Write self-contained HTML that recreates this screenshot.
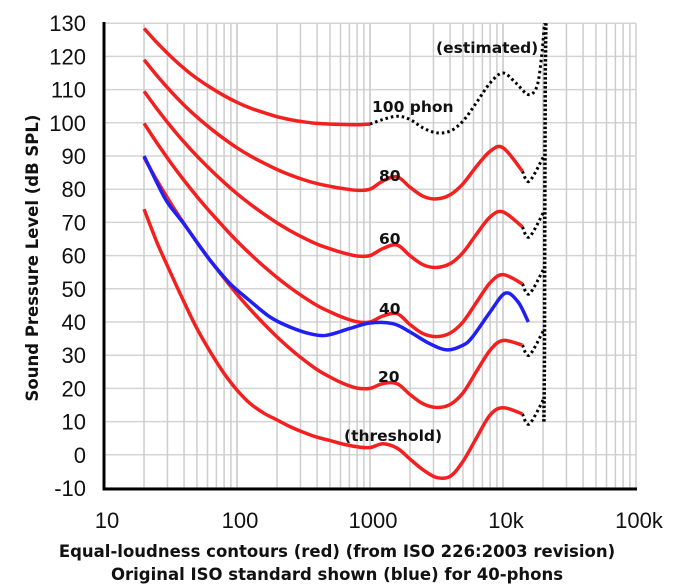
<!DOCTYPE html>
<html><head><meta charset="utf-8"><style>
html,body{margin:0;padding:0;background:#fff;}
svg{display:block;font-family:"Liberation Sans","DejaVu Sans",sans-serif;}
.b{font-family:"DejaVu Sans","Liberation Sans",sans-serif;}
</style></head><body>
<svg id="chart" width="696" height="588" viewBox="0 0 696 588" xmlns="http://www.w3.org/2000/svg">
<g id="grid"></g>
<g id="series"></g>
<g id="axes"></g>
<g id="labels"></g>
</svg>
<script>
const freqs = [20,25,31.5,40,50,63,80,100,125,160,200,250,315,400,500,630,800,1000,1250,1600,2000,2500,3150,4000,5000,6300,8000,10000,14000];
const phon0 = [74,64,55,46,38,31,24.5,19.5,15.5,12.5,10.5,8.5,6.8,5.3,4.3,3.2,2.4,2.2,3.3,2,-1.3,-4.5,-6.8,-6.5,-2,5,12,14.2,12.3];
const phon20 = [89.58,82.65,75.98,69.62,64.02,58.55,53.19,48.38,43.94,39.37,35.51,31.99,28.69,25.67,23.43,21.48,20.1,20.01,21.46,21.4,18.15,15.38,14.26,15.14,18.63,25.02,31.52,34.43,33.04];
const phon40 = [99.85,93.94,88.17,82.63,77.78,73.08,68.48,64.37,60.59,56.7,53.41,50.4,47.58,44.98,43.05,41.34,40.06,40.01,41.82,42.51,39.23,36.51,35.61,36.65,40.01,45.83,51.8,54.28,51.49];
const phon60 = [109.51,104.23,99.08,94.18,89.96,85.94,82.05,78.65,75.56,72.47,69.86,67.53,65.39,63.45,62.05,60.81,59.89,60.01,62.15,63.19,59.96,57.26,56.42,57.57,60.89,66.36,71.66,73.16,68.63];
const phon80 = [118.99,114.23,109.65,105.34,101.72,98.36,95.17,92.48,90.09,87.82,85.92,84.31,82.89,81.68,80.86,80.17,79.67,80.01,82.48,83.74,80.59,77.88,77.07,78.31,81.62,86.81,91.41,92.5,85.41];
const phon100Freqs = [20,25,31.5,40,50,63,80,100,125,160,200,250,315,400,500,630,800,1000];
const phon100 = [128.41,124.15,120.11,116.38,113.35,110.65,108.16,106.17,104.48,103.03,101.85,100.97,100.3,99.83,99.62,99.5,99.44,99.6];
const estFreqs = [1000,1250,1600,2000,2500,3150,4000,5000,6300,8000,10000,12500,15500,18000,19500,20500];
const est100 = [99.6,101,102,101,98.5,97,97.5,100.5,106,112,115,112,108.5,111,120,130];
const blueFreqs = [20,25,30,40,50,63,88,120,177,250,350,472,700,1000,1490,2000,2800,3800,5000,5900,8000,10400,13000,15500];
const blue40 = [90,82,76,69.5,64,58.5,51.7,47,41.5,38.5,36.5,36,38,39.7,39.5,37,33.5,31.6,33,35.5,43,48.7,46,40];
const wallFreqs = [20300,20500,20600,20700,20800,21000];
const wallDb = [10,30,60,90,115,130];
const yTicks = [130,120,110,100,90,80,70,60,50,40,30,20,10,0,-10];
const xTickVals = [10,100,1000,10000,100000];
const xTickLabels = ["10","100","1000","10k","100k"];

const NS="http://www.w3.org/2000/svg";
const X0=104, DEC=133, Y0=488, PX=33.2;
function xs(f){return X0+DEC*Math.log10(f/10);}
function ys(db){return Y0-(db+10)*PX/10;}
function mk(tag,attrs,parent){const e=document.createElementNS(NS,tag);for(const k in attrs)e.setAttribute(k,attrs[k]);parent.appendChild(e);return e;}
const grid=document.getElementById('grid'),series=document.getElementById('series'),axes=document.getElementById('axes'),labels=document.getElementById('labels');

for(const v of yTicks){const l=mk('line',{x1:X0,x2:636,y1:ys(v),y2:ys(v),stroke:'#d4d4d4','stroke-width':1.5},grid);

}
for(let d=10;d<100000;d*=10){for(let m=1;m<=10;m++){const f=d*m;const x=xs(f);if(x>637)continue;
const l=mk('line',{x1:x,x2:x,y1:ys(130),y2:Y0,stroke:'#cdcdcd','stroke-width':1.5},grid);

}}

function path(fa,da){return fa.map((f,i)=>(i?'L':'M')+xs(f).toFixed(1)+' '+ys(da[i]).toFixed(1)).join(' ');}
function smooth(fa,da){const p=fa.map((f,i)=>[xs(f),ys(da[i])]);let s='M'+p[0][0]+' '+p[0][1];
for(let i=0;i<p.length-1;i++){const a=p[i-1]||p[i],b=p[i],c=p[i+1],d=p[i+2]||c;
s+=' C'+(b[0]+(c[0]-a[0])/6).toFixed(1)+' '+(b[1]+(c[1]-a[1])/6).toFixed(1)+' '+(c[0]-(d[0]-b[0])/6).toFixed(1)+' '+(c[1]-(d[1]-b[1])/6).toFixed(1)+' '+c[0].toFixed(1)+' '+c[1].toFixed(1);}return s;}

const reds=[['phon-0-threshold-curve',phon0],['phon-20-curve',phon20],['phon-40-curve',phon40],['phon-60-curve',phon60],['phon-80-curve',phon80]];
for(const [n,d] of reds){
  const last=d[d.length-1];
  const t=mk('path',{d:smooth([14000,15800,20500],[last,last-3,last+5]),fill:'none',stroke:'#000','stroke-width':3,'stroke-dasharray':'2.5 3'},series);
  
  
  const p=mk('path',{d:smooth(freqs,d),fill:'none',stroke:'#f42020','stroke-width':3.5},series);
  
  
}
const p100=mk('path',{d:smooth(phon100Freqs,phon100),fill:'none',stroke:'#f42020','stroke-width':3.5},series);


const e100=mk('path',{d:smooth(estFreqs,est100),fill:'none',stroke:'#000','stroke-width':3,'stroke-dasharray':'2.5 3'},series);


const wall=mk('path',{d:path(wallFreqs,wallDb),fill:'none',stroke:'#000','stroke-width':3.5,'stroke-dasharray':'2.5 2'},series);


const b=mk('path',{d:smooth(blueFreqs,blue40),fill:'none',stroke:'#2020f4','stroke-width':3.5},series);



const ya=mk('line',{x1:X0,x2:X0,y1:22,y2:490,stroke:'#000','stroke-width':3},axes);


const xa=mk('line',{x1:X0-1.5,x2:637,y1:489,y2:489,stroke:'#000','stroke-width':3},axes);


for(const v of yTicks){const t=mk('text',{x:86,y:ys(v)+8,'text-anchor':'end','font-size':22,fill:'#111'},labels);t.textContent=String(v);

}
xTickVals.forEach((v,i)=>{const t=mk('text',{x:xs(v)+3,y:528,'text-anchor':'middle','font-size':22,fill:'#111'},labels);t.textContent=xTickLabels[i];

});
function lab(txt,x,y,size,name,anchor){const t=mk('text',{x:x,y:y,'font-size':size,'font-weight':'bold',fill:'#111','text-anchor':anchor||'start','class':'b'},labels);t.textContent=txt;

return t;}
lab('100 phon',372,112,15.5,'label-100-phon');
lab('80',379,181,15.5,'label-80');
lab('60',379,244,15.5,'label-60');
lab('40',379,314,15.5,'label-40');
lab('20',378,382,15.5,'label-20');
lab('(threshold)',344,441,15.5,'label-threshold');
lab('(estimated)',436,53,15.5,'label-estimated');
lab('Equal-loudness contours (red) (from ISO 226:2003 revision)',337,557,16.5,'x-axis-title-line1','middle');
lab('Original ISO standard shown (blue) for 40-phons',337,580,16.5,'x-axis-title-line2','middle');
const yt=lab('Sound Pressure Level (dB SPL)',0,0,16.5,'y-axis-title','middle');
yt.setAttribute('transform','translate(38,258) rotate(-90)');
</script>
</body></html>
